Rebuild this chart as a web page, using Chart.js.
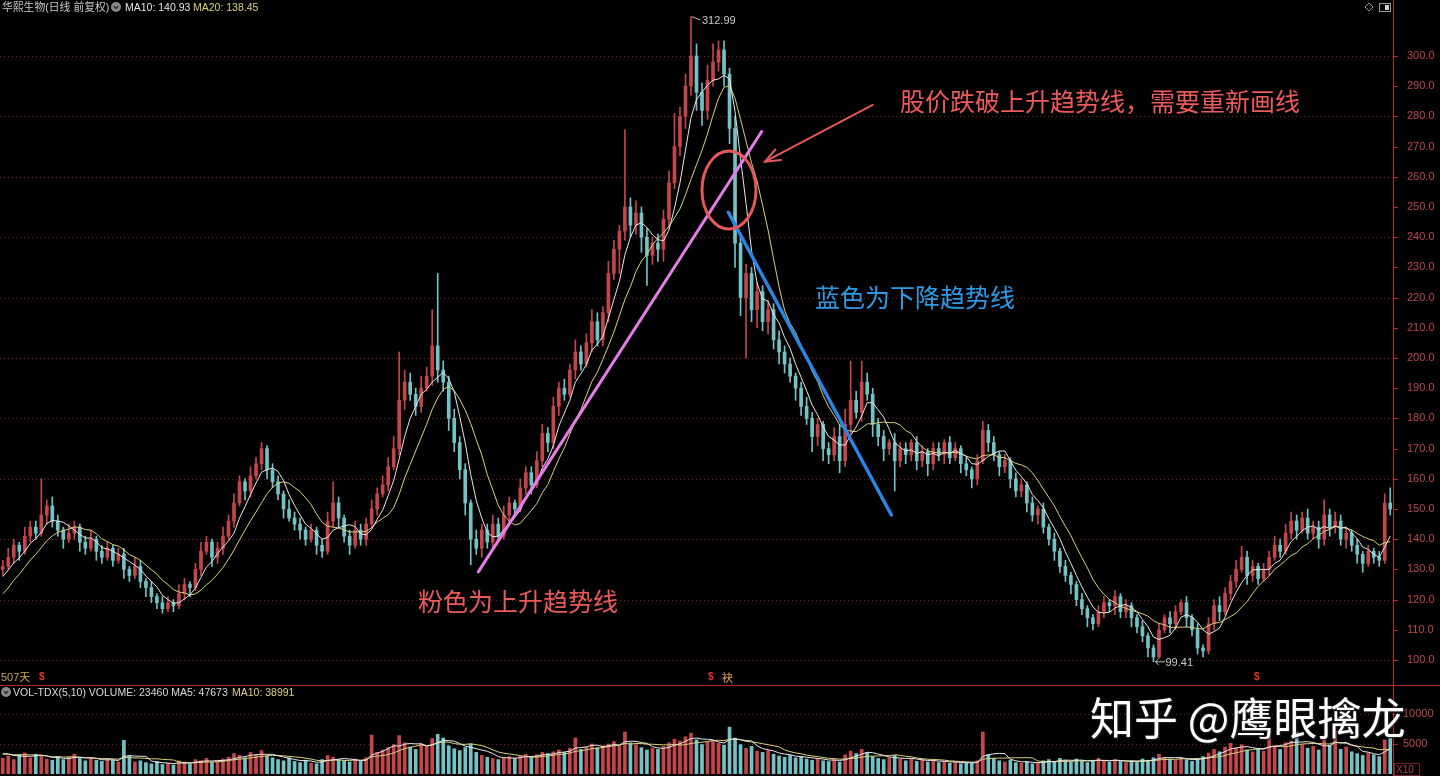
<!DOCTYPE html>
<html>
<head>
<meta charset="utf-8">
<script src="https://cdn.jsdelivr.net/npm/chart.js@4.4.1/dist/chart.umd.min.js"></script>
<style>
  html, body { margin: 0; padding: 0; background: #000; }
  #wrap { position: relative; width: 1440px; height: 776px; overflow: hidden; background: #000;
          font-family: "Liberation Sans", "Noto Sans CJK SC", sans-serif; }
  canvas { position: absolute; left: 0; }
  #price { top: 0; }
  #vol { top: 686px; }
  .lbl { position: absolute; font-size: 10.5px; line-height: 12px; white-space: nowrap; }
  .ico { position: absolute; }
  #mark { position: absolute; left: 1090px; top: 692px; font-family: "Noto Sans CJK SC", sans-serif;
          font-size: 44px; line-height: 48px; color: #fff; white-space: nowrap;
          text-shadow: 0 0 2px #333, 1px 1px 2px #222; }
</style>
</head>
<body>
<div id="wrap">
  <canvas id="price" width="1440" height="686"></canvas>
  <canvas id="vol" width="1440" height="90"></canvas>

  <div class="lbl" style="left:2px;top:1px;color:#c8c8c8;font-size:10.8px">华熙生物(日线 前复权)</div>
  <svg class="ico" style="left:111px;top:2px" width="10" height="10"><circle cx="5" cy="5" r="5" fill="#8a8a8a"/><polyline points="2.8,4 5,6.4 7.2,4" fill="none" stroke="#2a2a2a" stroke-width="1.4"/></svg>
  <div class="lbl" style="left:125px;top:1px;color:#e6e6e6">MA10: 140.93</div>
  <div class="lbl" style="left:193px;top:1px;color:#d9d27a">MA20: 138.45</div>

  <svg class="ico" style="left:1px;top:687px" width="10" height="10"><circle cx="5" cy="5" r="5" fill="#8a8a8a"/><polyline points="2.8,4 5,6.4 7.2,4" fill="none" stroke="#2a2a2a" stroke-width="1.4"/></svg>
  <div class="lbl" style="left:13px;top:686px;color:#d8d8d8">VOL-TDX(5,10) VOLUME: 23460 MA5: 47673</div>
  <div class="lbl" style="left:232px;top:686px;color:#d9d27a">MA10: 38991</div>

  <div id="mark">知乎 @鹰眼擒龙</div>
</div>

<script>
// one candle = two trading days of the 507-day window
const closes = [
  131,134,138,136,141,144,142,148,151,146,
  143,140,142,144,139,137,140,136,134,137,
  133,135,130,128,131,126,124,121,119,117,
  119,118,122,125,124,130,136,139,134,137,
  141,146,152,159,156,161,165,170,163,159,
  155,150,147,145,143,140,143,138,136,146,
  152,147,141,138,143,140,145,150,155,158,
  164,170,186,192,188,184,190,194,204,196,
  192,180,172,163,152,140,137,143,139,145,
  141,148,152,150,157,162,158,166,175,172,
  184,190,188,196,202,198,205,212,206,215,
  228,236,242,250,244,248,240,234,238,236,
  246,258,270,280,290,300,288,282,292,298,
  302,294,276,238,220,228,216,222,212,216,
  206,202,198,194,190,184,180,174,178,170,
  168,174,166,178,186,182,192,188,178,174,
  170,172,166,170,168,172,166,169,165,170,
  168,172,167,170,165,163,160,166,176,172,
  168,164,166,160,156,158,152,148,150,144,
  140,136,131,128,125,120,117,114,112,116,
  119,118,121,116,118,114,111,108,104,101,
  110,114,112,116,119,114,110,104,103,112,
  118,116,122,126,130,134,128,131,127,130,
  134,138,136,142,146,143,147,142,144,140,
  148,144,146,140,142,138,135,132,136,134,
  133,152,150
];
const upperShadow = [
  2,3,2,1,3,2,2,12,2,3,
  2,1,3,2,1,2,3,1,2,2,
  1,2,2,1,3,2,1,2,1,2,
  2,1,3,2,1,2,3,2,1,2,
  3,2,3,2,1,3,2,2,1,2,
  2,1,3,2,2,1,2,1,2,3,
  7,2,1,2,3,2,2,3,2,3,
  3,4,16,4,3,2,4,3,12,24,
  3,2,3,2,2,1,3,2,2,3,
  2,3,2,1,3,2,2,3,3,2,
  3,2,3,2,4,2,3,4,3,2,
  4,3,2,25.6,3,4,2,3,2,3,
  3,4,11,3,4,12.99,4,3,5,6,
  3,3,2,4,2,3,2,3,2,3,
  2,3,2,2,1,2,3,2,2,1,
  2,3,4,5,13,3,7,3,2,2,
  2,1,3,2,2,1,2,2,1,2,
  2,1,2,2,1,2,1,2,3,2,
  2,1,2,1,2,2,1,2,1,2,
  1,2,1,2,1,1,2,1,1,2,
  2,1,2,1,2,1,1,2,1,1,
  2,1,2,2,1,2,1,2,1,2,
  2,3,2,2,3,3.6,2,2,1,2,
  2,3,2,3,3,2,2,3,2,2,
  5,2,3,2,2,1,2,1,2,1,
  2,3,5
];
const lowerShadow = [
  2,1,2,3,1,2,2,1,3,2,
  2,3,1,2,3,2,1,3,2,1,
  2,1,3,2,1,2,3,2,2,1.5,
  1,2,1,2,3,1,2,1,3,2,
  2,1,2,1,3,2,1,2,3,2,
  2,3,1,2,3,2,1,3,2,1,
  2,3,2,3,1,2,2,1,2,1,
  2,1,2,3,2,3,2,1,3,4,
  3,4,3,3,4,8.5,2,3,2,2,
  2,1,3,2,1,2,3,1,2,3,
  2,3,2,1,3,2,1,3,2,2,
  3,2,8,3,4,3,5,10,3,4,
  4,3,2,3,4,3,6,5,3,2,
  3,4,5,8,6,20,4,6,3,4,
  3,4,3,2,4,3,2,5,3,4,
  3,2,4,2,3,2,3,2,4,3,
  4,2,10,2,3,2,3,2,4,2,
  2,3,2,1,3,2,3,2,1,3,
  2,3,2,3,2,2,3,2,3,2,
  2,3,2,2,3,2,2,3,2,1,
  2,2,3,2,2,3,2,2,3,1.59,
  0.5,1,3,2,1,3,2,2,2,1,
  2,3,1,2,2,1,3,2,2,1,
  2,1,2,1,2,3,1,2,2,3,
  2,3,2,2,3,2,3,3,1,2,
  2,1,2
];
const volume = [
  2600,3000,2400,3200,3500,2700,3300,3000,2500,2300,
  2900,2400,2800,3300,2600,2200,2700,2300,2100,2500,
  2300,2000,5600,3000,2000,2200,1900,1700,2100,1600,
  1800,1500,2200,2000,1700,2400,2200,2600,1900,2100,
  2500,2800,3400,3100,2700,3600,3200,3900,3000,2700,
  2400,2200,2700,2100,1900,2300,1800,1700,2400,3100,
  2800,2400,2200,2000,2500,2100,2700,6500,3600,4000,
  4400,4900,6400,5200,4500,4100,5000,4600,5900,6600,
  6000,4700,4200,3900,4400,5000,3600,3100,2800,2600,
  2400,2700,2900,2600,3000,3300,2800,3200,3600,3400,
  3700,4000,3600,4300,6000,4100,4500,5000,4400,4700,
  5000,5400,4700,7000,5200,4900,4400,4000,4300,4100,
  4600,5200,5800,5500,6200,6800,5700,4900,5400,5600,
  5100,4800,7800,6000,4900,4300,4600,3800,3600,3900,
  3300,3000,2800,3100,2700,2900,2500,2300,2600,2200,
  2100,2400,2000,3200,3800,3400,4100,3600,2900,2600,
  2400,2700,3100,2500,2200,2600,2100,2400,2000,2300,
  1900,2100,1800,2000,1700,1900,1800,2200,7000,3200,
  2600,2200,2000,2300,1900,1800,2100,1700,1900,2200,
  2400,2100,2600,2300,2000,2500,2200,1900,2300,2600,
  2200,2000,2400,2100,1900,2200,2000,2500,2300,2700,
  3300,2800,2500,2300,2700,2400,2100,2600,2900,3500,
  4100,3700,4500,5100,4300,4900,4000,3700,4200,3800,
  6800,4700,4100,5200,5500,7000,4900,4300,4600,4000,
  5700,4800,7200,4100,4500,3700,3400,3100,3500,3200,
  2900,5700,6000
];
// history before the window, only used to warm up the moving averages
const preCloses = [112,114,113,116,118,120,123,126,128,130];
const preVolume = [3200,2900,3400,3100,3600,3000,3300,3700,3500,3900];

const priceTicks = [100,110,120,130,140,150,160,170,180,190,200,210,220,230,240,250,260,270,280,290,300];
const gridPrices = [100,120,140,160,180,200,220,240,260,280,300];
const volTicks = [5000, 10000];

// hand drawn marks on the picture, in (candle index, price)
const pinkTrend = [[86.37, 129.2], [137.84, 275.0]];
const blueTrend = [[131.78, 248.25], [161.4, 148.0]];
const breakCircle = [131.9, 255.6];
const noteArrow = [[158.0, 283.8], [138.44, 265.0]];
const notes = [
  { at: [162.96, 284.8], text: '股价跌破上升趋势线，需要重新画线', color: '#ec5a5a' },
  { at: [147.5, 219.9], text: '蓝色为下降趋势线', color: '#2b9be8' },
  { at: [75.4, 119.5], text: '粉色为上升趋势线', color: '#ec5a5a' }
];

const RED = '#c4454a';
const CYAN = '#72c2c6';

const labels = closes.map((c, i) => String(i));
const opens = closes.map((c, i) => i === 0 ? preCloses[preCloses.length - 1] : closes[i - 1]);
const highs = closes.map((c, i) => Math.max(opens[i], c) + upperShadow[i]);
const lows = closes.map((c, i) => Math.min(opens[i], c) - lowerShadow[i]);
const candleColors = closes.map((c, i) => c >= opens[i] ? RED : CYAN);

function movingAvg(src, pre, n) {
  const all = pre.concat(src);
  return src.map((v, i) => {
    const end = pre.length + i + 1;
    const win = all.slice(end - n, end);
    return win.reduce((s, x) => s + x, 0) / win.length;
  });
}
const maShort = movingAvg(closes, preCloses, 5);   // shown as MA10
const maLong = movingAvg(closes, preCloses, 10);   // shown as MA20
const volShort = movingAvg(volume, preVolume, 5);
const volLong = movingAvg(volume, preVolume, 10);

const AXIS_RED = '#b8262a';
const GRID_RED = '#6e1f22';

function dotted(ctx, y, x0, x1) {
  ctx.beginPath();
  ctx.moveTo(x0, y);
  ctx.lineTo(x1, y);
  ctx.stroke();
}

const priceDecor = {
  id: 'priceDecor',
  beforeDatasetsDraw(chart) {
    const { ctx, chartArea: a, scales: { y } } = chart;
    ctx.save();
    ctx.lineWidth = 1;
    ctx.strokeStyle = GRID_RED;
    ctx.setLineDash([1, 3]);
    gridPrices.forEach(v => dotted(ctx, Math.round(y.getPixelForValue(v)) + 0.5, a.left, a.right));
    ctx.setLineDash([]);
    ctx.strokeStyle = AXIS_RED;
    ctx.beginPath();
    ctx.moveTo(a.right + 0.5, 0);
    ctx.lineTo(a.right + 0.5, chart.height);
    ctx.stroke();
    priceTicks.forEach(v => {
      const py = Math.round(y.getPixelForValue(v)) + 0.5;
      ctx.beginPath();
      ctx.moveTo(a.right, py);
      ctx.lineTo(a.right + 5, py);
      ctx.stroke();
    });
    // separator between price and volume panel
    ctx.beginPath();
    ctx.moveTo(0, chart.height - 0.5);
    ctx.lineTo(chart.width, chart.height - 0.5);
    ctx.stroke();
    // bottom info row
    ctx.font = '11px "Liberation Sans", "Noto Sans CJK SC"';
    ctx.textBaseline = 'middle';
    ctx.fillStyle = '#cfa152';
    ctx.fillText('507天', 1, 678);
    ctx.fillStyle = '#e03434';
    ctx.font = 'bold 10px "Liberation Sans"';
    [42, 711, 1257].forEach(px => ctx.fillText('$', px - 3, 677));
    ctx.font = '11px "Noto Sans CJK SC"';
    ctx.fillStyle = '#e0a060';
    ctx.fillText('袂', 722, 678);
    // top-right icons
    ctx.strokeStyle = '#9a9a9a';
    ctx.beginPath();
    ctx.moveTo(1369, 3); ctx.lineTo(1373, 7); ctx.lineTo(1369, 11); ctx.lineTo(1365, 7); ctx.closePath();
    ctx.stroke();
    ctx.strokeRect(1379.5, 3.5, 11, 8);
    ctx.fillStyle = '#cfcfcf';
    ctx.fillRect(1385, 5, 4, 5);
    ctx.restore();
  },
  afterDatasetsDraw(chart) {
    const { ctx, scales: { x, y } } = chart;
    const px = p => [x.getPixelForValue(p[0]), y.getPixelForValue(p[1])];
    ctx.save();
    ctx.lineCap = 'round';

    // extremes labels
    const hi = Math.max(...highs), hiIdx = highs.indexOf(hi);
    const [hx, hy] = px([hiIdx, hi]);
    ctx.strokeStyle = '#bdbdbd';
    ctx.lineWidth = 1;
    ctx.beginPath(); ctx.moveTo(hx + 1, hy); ctx.lineTo(hx + 9, hy + 3); ctx.stroke();
    ctx.fillStyle = '#c8c8c8';
    ctx.font = '11px "Liberation Sans"';
    ctx.textBaseline = 'middle';
    ctx.fillText(hi.toFixed(2), hx + 11, hy + 4);

    const lo = Math.min(...lows), loIdx = lows.indexOf(lo);
    const [lx, ly] = px([loIdx, lo]);
    ctx.beginPath(); ctx.moveTo(lx + 2, ly); ctx.lineTo(lx + 11, ly); ctx.stroke();
    ctx.beginPath(); ctx.moveTo(lx + 5, ly - 3); ctx.lineTo(lx + 2, ly); ctx.lineTo(lx + 5, ly + 3); ctx.stroke();
    ctx.fillText(lo.toFixed(2), lx + 12, ly + 1);

    // trend lines
    ctx.lineWidth = 3;
    ctx.strokeStyle = '#e27ee6';
    ctx.beginPath(); ctx.moveTo(...px(pinkTrend[0])); ctx.lineTo(...px(pinkTrend[1])); ctx.stroke();
    ctx.lineWidth = 3.5;
    ctx.strokeStyle = '#2a86e6';
    ctx.beginPath(); ctx.moveTo(...px(blueTrend[0])); ctx.lineTo(...px(blueTrend[1])); ctx.stroke();

    // circle at the break
    const [cx, cy] = px(breakCircle);
    ctx.lineWidth = 3;
    ctx.strokeStyle = '#e45858';
    ctx.beginPath(); ctx.ellipse(cx, cy, 27, 39, 0, 0, Math.PI * 2); ctx.stroke();

    // arrow pointing at the circle
    const [ax0, ay0] = px(noteArrow[0]);
    const [ax1, ay1] = px(noteArrow[1]);
    ctx.lineWidth = 2;
    ctx.beginPath(); ctx.moveTo(ax0, ay0); ctx.lineTo(ax1, ay1); ctx.stroke();
    const ang = Math.atan2(ay1 - ay0, ax1 - ax0);
    ctx.beginPath();
    ctx.moveTo(ax1 - 16 * Math.cos(ang - 0.38), ay1 - 16 * Math.sin(ang - 0.38));
    ctx.lineTo(ax1, ay1);
    ctx.lineTo(ax1 - 16 * Math.cos(ang + 0.38), ay1 - 16 * Math.sin(ang + 0.38));
    ctx.stroke();

    // notes
    ctx.font = '25px "Noto Sans CJK SC"';
    ctx.textBaseline = 'middle';
    notes.forEach(n => {
      const [tx, ty] = px(n.at);
      ctx.fillStyle = n.color;
      ctx.fillText(n.text, tx, ty);
    });
    ctx.restore();
  }
};

const volDecor = {
  id: 'volDecor',
  beforeDatasetsDraw(chart) {
    const { ctx, chartArea: a, scales: { y } } = chart;
    ctx.save();
    ctx.lineWidth = 1;
    ctx.strokeStyle = GRID_RED;
    ctx.setLineDash([1, 3]);
    volTicks.forEach(v => dotted(ctx, Math.round(y.getPixelForValue(v)) + 0.5, a.left, a.right));
    ctx.setLineDash([]);
    ctx.strokeStyle = AXIS_RED;
    ctx.beginPath();
    ctx.moveTo(a.right + 0.5, 0);
    ctx.lineTo(a.right + 0.5, chart.height);
    ctx.stroke();
    volTicks.forEach(v => {
      const py = Math.round(y.getPixelForValue(v)) + 0.5;
      ctx.beginPath(); ctx.moveTo(a.right, py); ctx.lineTo(a.right + 5, py); ctx.stroke();
    });
    ctx.strokeStyle = '#7a2226';
    ctx.strokeRect(a.right + 1.5, chart.height - 12.5, 25, 12);
    ctx.fillStyle = '#a84448';
    ctx.font = '10px "Liberation Sans"';
    ctx.textBaseline = 'middle';
    ctx.fillText('X10', a.right + 3, chart.height - 6);
    ctx.restore();
  }
};

Chart.defaults.font.family = '"Liberation Sans", "Noto Sans CJK SC", sans-serif';

const axisFit = s => { s.width = 47; s.paddingTop = 0; s.paddingBottom = 0; };

new Chart(document.getElementById('price'), {
  type: 'bar',
  data: {
    labels: labels,
    datasets: [
      { type: 'line', data: maShort, borderColor: '#e8e8e8', borderWidth: 1, pointRadius: 0, fill: false, tension: 0, order: 0 },
      { type: 'line', data: maLong, borderColor: '#d9d27a', borderWidth: 1, pointRadius: 0, fill: false, tension: 0, order: 0 },
      { data: opens.map((o, i) => [o, closes[i]]), backgroundColor: candleColors, barThickness: 3, minBarLength: 1, grouped: false, order: 1 },
      { data: lows.map((l, i) => [l, highs[i]]), backgroundColor: candleColors, barThickness: 1, grouped: false, order: 2 }
    ]
  },
  options: {
    responsive: false,
    animation: false,
    devicePixelRatio: 1,
    events: [],
    layout: { padding: { top: 0, right: 0, bottom: 16, left: 0 } },
    plugins: { legend: { display: false }, tooltip: { enabled: false } },
    scales: {
      x: { display: false, offset: true },
      y: {
        position: 'right',
        min: 96.69,
        max: 318.54,
        grid: { display: false, drawTicks: false },
        border: { display: false },
        afterBuildTicks: s => { s.ticks = priceTicks.map(v => ({ value: v })); },
        afterFit: axisFit,
        ticks: { color: '#bb474b', padding: 14, font: { size: 11 }, callback: v => Number(v).toFixed(1) }
      }
    }
  },
  plugins: [priceDecor]
});

new Chart(document.getElementById('vol'), {
  type: 'bar',
  data: {
    labels: labels,
    datasets: [
      { type: 'line', data: volShort, borderColor: '#e8e8e8', borderWidth: 1, pointRadius: 0, fill: false, tension: 0, order: 0 },
      { type: 'line', data: volLong, borderColor: '#d9d27a', borderWidth: 1, pointRadius: 0, fill: false, tension: 0, order: 0 },
      { data: volume, backgroundColor: candleColors, barThickness: 3, grouped: false, order: 1 }
    ]
  },
  options: {
    responsive: false,
    animation: false,
    devicePixelRatio: 1,
    events: [],
    layout: { padding: { top: 0, right: 0, bottom: 2, left: 0 } },
    plugins: { legend: { display: false }, tooltip: { enabled: false } },
    scales: {
      x: { display: false, offset: true },
      y: {
        position: 'right',
        min: 0,
        max: 14667,
        grid: { display: false, drawTicks: false },
        border: { display: false },
        afterBuildTicks: s => { s.ticks = volTicks.map(v => ({ value: v })); },
        afterFit: axisFit,
        ticks: { color: '#bb474b', padding: 10, crossAlign: 'near', font: { size: 11 }, callback: v => String(v) }
      }
    }
  },
  plugins: [volDecor]
});
</script>
</body>
</html>
